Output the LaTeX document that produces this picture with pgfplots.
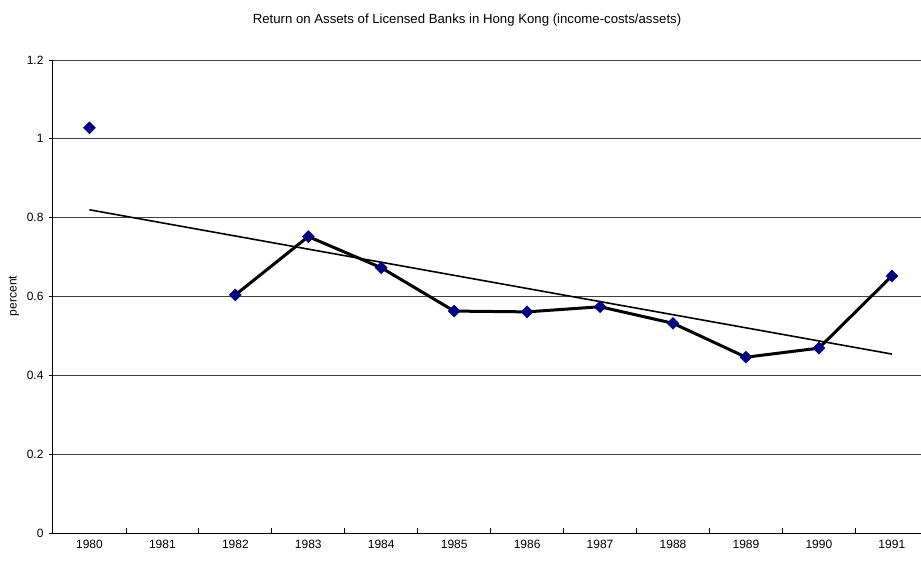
\documentclass[border=0pt]{standalone}
\usepackage{pgfplots}
\pgfplotsset{compat=1.18}
\usepackage{fontspec}
\setmainfont{Liberation Sans}
\definecolor{navymark}{RGB}{0,0,128}
\begin{document}
\begin{tikzpicture}[x=1pt,y=1pt]
\path[use as bounding box] (0,0) rectangle (921,560);
\begin{axis}[
  at={(53pt,27pt)}, anchor=south west,
  scale only axis, width=868pt, height=473pt,
  xmin=-0.5, xmax=11.4, ymin=0, ymax=1.2,
  axis x line=bottom, axis y line=left,
  axis line style={-, black, line width=1pt},
  xtick={0,...,11},
  xticklabels={1980,1981,1982,1983,1984,1985,1986,1987,1988,1989,1990,1991},
  major x tick style={draw=none},
  minor xtick={0.5,1.5,...,10.5},
  minor x tick style={black, line width=0.8pt},
  minor tick length=5pt,
  ytick={0,0.2,...,1.2},
  y tick style={black, line width=0.8pt},
  major tick length=4pt,
  tick align=outside,
  xtick align=inside,
  ymajorgrids,
  grid style={black!75, line width=0.8pt},
  tick label style={font=\fontsize{12}{14}\selectfont},
  /pgf/number format/assume math mode=true,
  yticklabel style={xshift=-2pt},
  xticklabel style={yshift=-4pt},
  unbounded coords=jump,
  clip=false,
]
\addplot[black, line width=3pt, mark=square*, mark size=4.2pt,
  mark options={rotate=45, fill=navymark, draw=navymark, line width=0.5pt}]
  coordinates {
  (0,1.028) (1,nan) (2,0.604) (3,0.752) (4,0.673) (5,0.563) (6,0.561)
  (7,0.574) (8,0.532) (9,0.446) (10,0.469) (11,0.652)
  };
\addplot[black, line width=1.6pt, no marks] coordinates {(0,0.820) (11,0.454)};
\end{axis}
\node[font=\fontsize{13.2}{15}\selectfont] at (467,540) {Return on Assets of Licensed Banks in Hong Kong (income-costs/assets)};
\node[font=\fontsize{12}{14}\selectfont, rotate=90] at (14,264) {percent};
\end{tikzpicture}
\end{document}
